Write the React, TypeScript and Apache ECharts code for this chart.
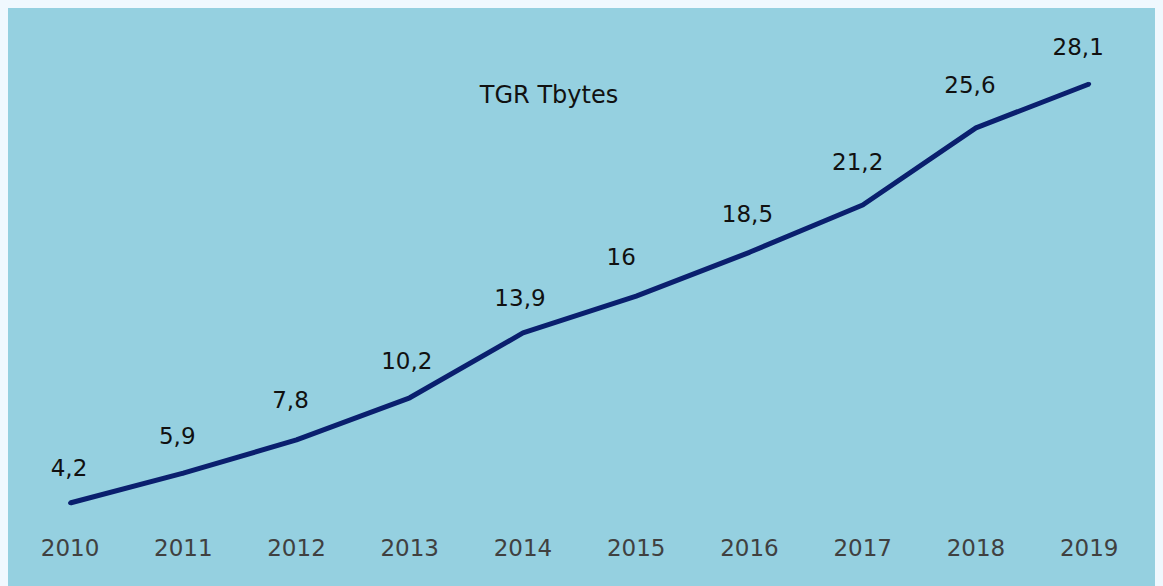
import React, { useEffect, useRef } from "react";
import * as echarts from "echarts";

const years = ["2010", "2011", "2012", "2013", "2014", "2015", "2016", "2017", "2018", "2019"];
const values = [4.2, 5.9, 7.8, 10.2, 13.9, 16, 18.5, 21.2, 25.6, 28.1];
const labelTexts = ["4,2", "5,9", "7,8", "10,2", "13,9", "16", "18,5", "21,2", "25,6", "28,1"];
const titleText = "TGR Tbytes";

// label nudges (styling only)
const labelNudges: [number, number][] = [
  [-1, 1], [-6, -2], [-6, -4], [-3, -1], [-3, 1],
  [-15, -4], [-2, -3], [-5, -7], [-6, -7], [-11, -2],
];

export default function App() {
  const ref = useRef<HTMLDivElement>(null);
  useEffect(() => {
    document.body.style.background = "#F0F8FE";
    const chart = echarts.init(ref.current!, null, { renderer: "svg" });
    const font = "'DejaVu Sans', sans-serif";
    chart.setOption({
      animation: false,
      backgroundColor: "#95D0E0",
      title: {
        text: titleText,
        left: 536,
        top: 70,
        textAlign: "center",
        textStyle: { fontFamily: font, fontSize: 24, fontWeight: "normal", color: "#111" },
      },
      grid: { left: 5.4, right: 17.2, top: 42.7, bottom: 9.4, containLabel: false },
      xAxis: {
        type: "category",
        data: years,
        boundaryGap: true,
        axisLine: { show: false },
        axisTick: { show: false },
        axisLabel: { margin: -40, fontFamily: font, fontSize: 23, color: "#404040" },
      },
      yAxis: { type: "value", min: 0, max: 30, show: false, splitLine: { show: false } },
      series: [
        {
          type: "line",
          data: values.map((v, i) => ({ value: v, label: { offset: labelNudges[i] } })),
          symbol: "circle",
          symbolSize: 4,
          showSymbol: true,
          itemStyle: { color: "#0A1F6E" },
          lineStyle: { color: "#0A1F6E", width: 5 },
          label: {
            show: true,
            position: "top",
            distance: 22,
            fontFamily: font,
            fontSize: 23,
            color: "#111",
            formatter: (p: any) => labelTexts[p.dataIndex],
          },
        },
      ],
    });
    return () => chart.dispose();
  }, []);
  return <div ref={ref} style={{ width: 1155, height: 578 }} />;
}
